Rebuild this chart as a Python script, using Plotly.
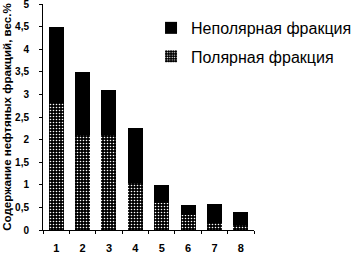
import plotly.graph_objects as go

categories = ["1", "2", "3", "4", "5", "6", "7", "8"]
polar = [2.8, 2.1, 2.1, 1.05, 0.6, 0.33, 0.15, 0.1]
nonpolar = [1.7, 1.4, 1.0, 1.2, 0.4, 0.22, 0.42, 0.3]
y_ticks = [0, 0.5, 1, 1.5, 2, 2.5, 3, 3.5, 4, 4.5, 5]

name_nonpolar = "Неполярная фракция"
name_polar = "Полярная фракция"
y_title = "Содержание нефтяных фракций, вес.%"

FONT = "Liberation Sans, Arial, sans-serif"

fig = go.Figure()
fig.add_trace(go.Bar(
    x=categories, y=polar, name=name_polar, legend="legend2",
    marker=dict(color="black", line=dict(width=0),
                pattern=dict(shape=".", fgcolor="white", bgcolor="black",
                             size=3, solidity=0.22, fillmode="replace")),
))
fig.add_trace(go.Bar(
    x=categories, y=nonpolar, name=name_nonpolar, legend="legend",
    marker=dict(color="black", line=dict(width=0)),
))

fig.update_layout(
    width=354, height=254,
    margin=dict(l=43, r=100, t=4, b=24, autoexpand=False),
    barmode="stack", bargap=0.43,
    plot_bgcolor="white", paper_bgcolor="white",
    separators=", ",
    font=dict(family=FONT, color="black"),
    showlegend=True,
    legend=dict(x=0.512, y=0.894, xanchor="left", yanchor="middle",
                font=dict(size=16, family=FONT), bgcolor="rgba(0,0,0,0)"),
    legend2=dict(x=0.512, y=0.768, xanchor="left", yanchor="middle",
                 font=dict(size=16, family=FONT), bgcolor="rgba(0,0,0,0)"),
)
fig.update_xaxes(
    type="category", showline=True, linecolor="black", linewidth=1,
    ticks="outside", ticklen=3, tickcolor="black", tickson="boundaries",
    tickfont=dict(size=11, family="Liberation Sans", weight="bold"),
    ticklabelstandoff=8, showgrid=False, zeroline=False,
    range=[-0.5, 7.5],
)
fig.update_yaxes(
    range=[0, 5], tickvals=y_ticks, showline=True, linecolor="black", linewidth=1,
    ticks="outside", ticklen=3, tickcolor="black", showgrid=False, zeroline=False,
    tickfont=dict(size=10, family="Liberation Sans", weight="bold"),
    ticklabelstandoff=8, ticklabeloverflow="allow",
    title=dict(text=y_title, font=dict(size=11.6, family="Liberation Sans", weight="bold"),
               standoff=4),
)

fig.write_html("out.html", config={"displayModeBar": False},
               post_script="document.body.style.margin='0';")
